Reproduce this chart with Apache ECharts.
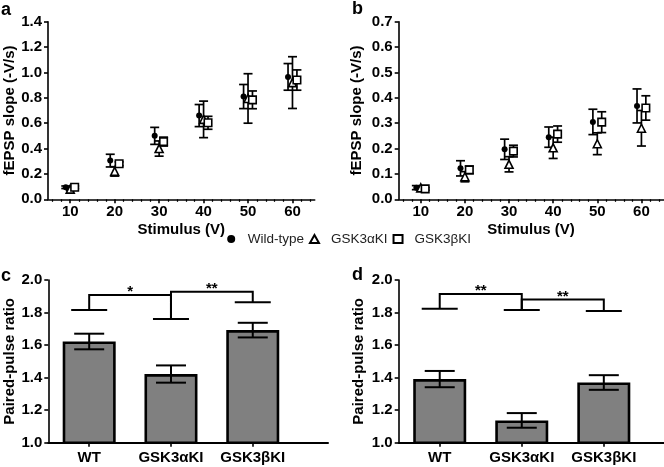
<!DOCTYPE html>
<html><head><meta charset="utf-8">
<script src="https://cdn.jsdelivr.net/npm/echarts@6/dist/echarts.min.js"></script>
<style>html,body{margin:0;padding:0;background:#fff}#c{width:664px;height:467px}</style>
</head><body><div id="c"></div>
<script>
// ---------- data ----------
const stimulus = [10, 20, 30, 40, 50, 60];
const groups = ['Wild-type', 'GSK3\u03b1KI', 'GSK3\u03b2KI'];
// panel a (fEPSP slope, -V/s)
const aWT     = [0.095, 0.305, 0.50, 0.66, 0.81, 0.965];
const aWTerr  = [0.010, 0.050, 0.067, 0.087, 0.095, 0.105];
const aAlpha  = [0.080, 0.220, 0.400, 0.630, 0.795, 0.920];
const aAlphaErr = [0.010, 0.037, 0.060, 0.144, 0.195, 0.204];
const aBeta   = [0.095, 0.280, 0.455, 0.603, 0.784, 0.940];
const aBetaErr = [0.010, 0.015, 0.035, 0.051, 0.070, 0.080];
// panel b
const bWT     = [0.046, 0.122, 0.197, 0.245, 0.305, 0.368];
const bWTerr  = [0.008, 0.030, 0.040, 0.040, 0.050, 0.067];
const bAlpha  = [0.045, 0.089, 0.138, 0.203, 0.219, 0.280];
const bAlphaErr = [0.008, 0.020, 0.030, 0.042, 0.043, 0.070];
const bBeta   = [0.041, 0.116, 0.190, 0.257, 0.304, 0.360];
const bBetaErr = [0.005, 0.015, 0.023, 0.032, 0.041, 0.048];
// panels c, d (paired-pulse ratio)
const categories = ['WT', 'GSK3\u03b1KI', 'GSK3\u03b2KI'];
const cPPR = [1.622, 1.422, 1.692];
const cErr = [0.048, 0.053, 0.045];
const dPPR = [1.391, 1.137, 1.370];
const dErr = [0.050, 0.045, 0.045];
// significance brackets: group cap levels and links [from, to, level, label]
const cCaps = [1.816, 1.760, 1.863];
const cLinks = [[1, 2, 1.908, '*'], [2, 3, 1.928, '**']];
const dCaps = [1.824, 1.816, 1.810];
const dLinks = [[1, 2, 1.914, '**'], [2, 3, 1.880, '**']];
// tick labels
const aTicks = [0, 1.4, 0.2];
const bTicks = [0, 0.7, 0.1];
const ppTicks = [1.0, 2.0, 0.2];

// ---------- styling ----------
const FONT = '"Liberation Sans", Arial, sans-serif';
const dodge = [-1, 0, 1];
const minorVals = [];
for (let v = 6; v <= 64; v += 2) if (v % 10 !== 0) minorVals.push(v);

function errRender(capHalf, lw) {
  return function (params, api) {
    const x = api.value(0), y = api.value(1), e = api.value(2);
    const hi = api.coord([x, y + e]), lo = api.coord([x, y - e]);
    const st = { stroke: '#000', lineWidth: lw };
    return { type: 'group', children: [
      { type: 'line', shape: { x1: hi[0], y1: hi[1], x2: lo[0], y2: lo[1] }, style: st },
      { type: 'line', shape: { x1: hi[0] - capHalf, y1: hi[1], x2: hi[0] + capHalf, y2: hi[1] }, style: st },
      { type: 'line', shape: { x1: lo[0] - capHalf, y1: lo[1], x2: lo[0] + capHalf, y2: lo[1] }, style: st }
    ]};
  };
}

const axisLineStyle = { color: '#000', width: 1.6 };
function xStim(grid, minor) {
  if (minor) return { type: 'value', gridIndex: grid, min: 5, max: 65, position: 'bottom',
    axisLine: { show: false }, axisLabel: { show: false }, splitLine: { show: false },
    axisTick: { show: true, customValues: minorVals, length: 2.5, lineStyle: { color: '#000', width: 1.2 } } };
  return { type: 'value', gridIndex: grid, min: 5, max: 65, position: 'bottom',
    name: 'Stimulus (V)', nameLocation: 'middle', nameGap: 23,
    nameTextStyle: { fontFamily: FONT, fontWeight: 'bold', fontSize: 15, color: '#000' },
    axisLine: { lineStyle: axisLineStyle }, splitLine: { show: false },
    axisTick: { customValues: stimulus, length: 4, lineStyle: { color: '#000', width: 1.6 } },
    axisLabel: { customValues: stimulus, margin: 5, fontFamily: FONT, fontWeight: 'bold', fontSize: 15, color: '#000' } };
}
function yVal(grid, t, name, gap, dec) {
  return { type: 'value', gridIndex: grid, min: t[0], max: t[1], interval: t[2],
    name: name, nameLocation: 'middle', nameGap: gap, nameRotate: 90,
    nameTextStyle: { fontFamily: FONT, fontWeight: 'bold', fontSize: 15, color: '#000' },
    axisLine: { show: true, lineStyle: axisLineStyle }, splitLine: { show: false },
    axisTick: { show: true, length: 4, lineStyle: { color: '#000', width: 1.6 } },
    axisLabel: { margin: 6, fontFamily: FONT, fontWeight: 'bold', fontSize: 15, color: '#000',
      formatter: v => v.toFixed(dec) } };
}
function xCat(grid, max) {
  return { type: 'value', gridIndex: grid, min: 0.5, max: max, position: 'bottom',
    axisLine: { lineStyle: { color: '#000', width: 2 } }, splitLine: { show: false },
    axisTick: { customValues: [1, 2, 3], length: 4, lineStyle: { color: '#000', width: 1.6 } },
    axisLabel: { customValues: [1, 2, 3], margin: 8, fontFamily: FONT, fontWeight: 'bold', fontSize: 15, color: '#000',
      formatter: v => categories[Math.round(v) - 1] } };
}

const series = [];
const symbols = [
  { symbol: 'circle', symbolSize: 6, itemStyle: { color: '#000', borderColor: '#000', borderWidth: 0, opacity: 1 } },
  { symbol: 'triangle', symbolSize: 8, itemStyle: { color: '#fff', borderColor: '#000', borderWidth: 1.6, opacity: 1 } },
  { symbol: 'rect', symbolSize: 7.5, itemStyle: { color: '#fff', borderColor: '#000', borderWidth: 1.6, opacity: 1 } }
];
function addScatterPanel(xi, yi, means, errs) {
  means.forEach((m, g) => {
    series.push({ type: 'custom', xAxisIndex: xi, yAxisIndex: yi, z: 2, silent: true,
      renderItem: errRender(4.5, 1.7), encode: { x: 0, y: 1 },
      data: stimulus.map((s, k) => [s + dodge[g], m[k], errs[g][k]]) });
  });
  means.forEach((m, g) => {
    series.push(Object.assign({ type: 'scatter', name: groups[g], xAxisIndex: xi, yAxisIndex: yi, z: 5,
      data: stimulus.map((s, k) => [s + dodge[g], m[k]]) }, symbols[g]));
  });
}
addScatterPanel(0, 0, [aWT, aAlpha, aBeta], [aWTerr, aAlphaErr, aBetaErr]);
addScatterPanel(2, 1, [bWT, bAlpha, bBeta], [bWTerr, bAlphaErr, bBetaErr]);

function addBarPanel(xi, yi, vals, errs, caps, links) {
  series.push({ type: 'bar', xAxisIndex: xi, yAxisIndex: yi, barWidth: 53, clip: true, z: 2,
    itemStyle: { color: '#808080', borderColor: '#000', borderWidth: 2.6 },
    data: vals.map((v, k) => [k + 1, v]) });
  series.push({ type: 'custom', xAxisIndex: xi, yAxisIndex: yi, z: 4, renderItem: errRender(15, 2),
    encode: { x: 0, y: 1 }, data: vals.map((v, k) => [k + 1, v, errs[k]]) });
  series.push({ type: 'custom', xAxisIndex: xi, yAxisIndex: yi, z: 4, encode: { x: 0, y: 1 },
    renderItem: function (params, api) {
      const p = api.coord([api.value(0), api.value(1)]);
      return { type: 'line', shape: { x1: p[0] - 18, y1: p[1], x2: p[0] + 18, y2: p[1] }, style: { stroke: '#000', lineWidth: 2 } };
    }, data: caps.map((c, k) => [k + 1, c]) });
  series.push({ type: 'custom', xAxisIndex: xi, yAxisIndex: yi, z: 4, encode: { x: 0, y: 2 },
    renderItem: function (params, api) {
      const L = links[params.dataIndex];
      const i = L[0], j = L[1], lev = L[2];
      const p1 = api.coord([i, caps[i - 1]]), p2 = api.coord([i, lev]), p3 = api.coord([j, lev]), p4 = api.coord([j, caps[j - 1]]);
      const mid = api.coord([(i + j) / 2, lev]);
      return { type: 'group', children: [
        { type: 'polyline', shape: { points: [p1, p2, p3, p4] }, style: { stroke: '#000', lineWidth: 2, fill: null } },
        { type: 'text', x: mid[0], y: mid[1] - 3, style: { text: L[3], fontFamily: FONT, fontSize: 15, fontWeight: 'bold',
          fill: '#000', align: 'center', verticalAlign: 'middle' } }
      ]};
    }, data: links.map(L => [L[0], L[1], L[2]]) });
}
addBarPanel(4, 2, cPPR, cErr, cCaps, cLinks);
addBarPanel(5, 3, dPPR, dErr, dCaps, dLinks);

const option = {
  animation: false,
  backgroundColor: '#fff',
  grid: [
    { left: 48, top: 21.7, width: 266.7, height: 177.6 },
    { left: 398.7, top: 21.7, width: 264.8, height: 177.6 },
    { left: 48.3, top: 280, width: 279.7, height: 162.7 },
    { left: 398.7, top: 280, width: 265, height: 162.7 }
  ],
  xAxis: [xStim(0, false), xStim(0, true), xStim(1, false), xStim(1, true), xCat(2, 3.92), xCat(3, 3.73)],
  yAxis: [
    yVal(0, aTicks, 'fEPSP slope (-V/s)', 26, 1),
    yVal(1, bTicks, 'fEPSP slope (-V/s)', 34, 1),
    yVal(2, ppTicks, 'Paired-pulse ratio', 29, 1),
    yVal(3, ppTicks, 'Paired-pulse ratio', 32, 1)
  ],
  legend: {
    left: 222.2, top: 227, padding: 5, itemGap: 5, itemWidth: 9, itemHeight: 8,
    data: [{ name: groups[0], icon: 'circle' }, { name: groups[1], icon: 'triangle' }, { name: groups[2], icon: 'rect' }],
    textStyle: { fontFamily: FONT, fontSize: 13.5, color: '#222', padding: [0, 0, 0, 7] }, selectedMode: false
  },
  graphic: [
    { type: 'text', left: 1, top: 1, style: { text: 'a', font: 'bold 18px ' + FONT, fill: '#000' } },
    { type: 'text', left: 352, top: 0, style: { text: 'b', font: 'bold 18px ' + FONT, fill: '#000' } },
    { type: 'text', left: 1, top: 267, style: { text: 'c', font: 'bold 18px ' + FONT, fill: '#000' } },
    { type: 'text', left: 352, top: 266, style: { text: 'd', font: 'bold 18px ' + FONT, fill: '#000' } }
  ],
  series: series
};
echarts.init(document.getElementById('c'), null, { renderer: 'canvas' }).setOption(option);
</script></body></html>
